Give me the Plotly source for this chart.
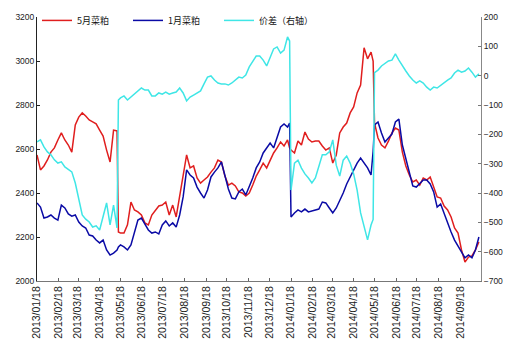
import plotly.graph_objects as go

dates = ["2013-01-18","2013-01-23","2013-01-28","2013-02-02","2013-02-07","2013-02-12","2013-02-17","2013-02-22","2013-02-27","2013-03-04","2013-03-09","2013-03-14","2013-03-19","2013-03-24","2013-03-29","2013-04-03","2013-04-08","2013-04-13","2013-04-18","2013-04-23","2013-04-28","2013-05-03","2013-05-08","2013-05-13","2013-05-15","2013-05-18","2013-05-23","2013-05-28","2013-06-02","2013-06-07","2013-06-12","2013-06-17","2013-06-22","2013-06-27","2013-07-02","2013-07-07","2013-07-12","2013-07-17","2013-07-22","2013-07-27","2013-08-01","2013-08-06","2013-08-11","2013-08-16","2013-08-21","2013-08-26","2013-08-31","2013-09-05","2013-09-10","2013-09-15","2013-09-20","2013-09-25","2013-09-30","2013-10-05","2013-10-10","2013-10-15","2013-10-20","2013-10-25","2013-10-30","2013-11-04","2013-11-09","2013-11-14","2013-11-19","2013-11-24","2013-11-29","2013-12-04","2013-12-09","2013-12-14","2013-12-19","2013-12-24","2013-12-29","2014-01-03","2014-01-08","2014-01-13","2014-01-16","2014-01-18","2014-01-23","2014-01-28","2014-02-02","2014-02-07","2014-02-12","2014-02-17","2014-02-22","2014-02-27","2014-03-04","2014-03-09","2014-03-14","2014-03-19","2014-03-24","2014-03-29","2014-04-03","2014-04-08","2014-04-13","2014-04-18","2014-04-23","2014-04-28","2014-05-03","2014-05-08","2014-05-13","2014-05-16","2014-05-18","2014-05-23","2014-05-28","2014-06-02","2014-06-07","2014-06-12","2014-06-17","2014-06-22","2014-06-27","2014-07-02","2014-07-07","2014-07-12","2014-07-17","2014-07-22","2014-07-27","2014-08-01","2014-08-06","2014-08-11","2014-08-16","2014-08-21","2014-08-26","2014-08-31","2014-09-05","2014-09-10","2014-09-15","2014-09-20","2014-09-25","2014-09-30","2014-10-05","2014-10-10","2014-10-15"]

may_meal = [2573,2505,2523,2550,2586,2605,2641,2673,2641,2618,2586,2709,2745,2764,2750,2732,2723,2714,2686,2659,2595,2541,2686,2682,
            2223,
            2218,2218,2255,2359,2323,2314,2300,2264,2255,2300,2323,2341,2345,2359,2300,2345,2291,2391,2473,2573,2514,2523,2468,2445,2459,2473,2495,2514,2550,2541,2477,2436,2445,2432,2405,2400,2386,2400,2436,2477,2505,2536,2514,2550,2582,2605,2632,2614,2641,
            2605,
            2595,2582,2636,2618,2677,2645,2632,2636,2636,2614,2595,2605,2536,2573,2673,2700,2718,2764,2791,2855,2891,3060,3010,3040,
            3000,
            2718,2650,2618,2605,2636,2673,2695,2686,2586,2523,2482,2450,2459,2436,2468,2459,2473,2423,2382,2377,2341,2323,2291,2241,2218,2141,2086,2109,2114,2141,2177]

jan_meal = [2355,2336,2286,2291,2300,2286,2277,2345,2332,2305,2295,2300,2268,2250,2241,2209,2205,2186,2173,2186,2141,2118,2127,2141,
            2155,
            2164,2155,2141,2164,2223,2277,2286,2259,2232,2218,2223,2214,2255,2273,2250,2264,2245,2300,2382,2505,2482,2468,2427,2400,2377,2414,2473,2495,2514,2541,2473,2418,2377,2373,2405,2418,2391,2427,2468,2514,2541,2582,2605,2627,2605,2655,2700,2714,2700,
            2718,
            2291,2309,2323,2314,2327,2314,2318,2323,2327,2359,2355,2332,2309,2332,2364,2400,2441,2473,2505,2536,2559,2536,2514,2482,
            2590,
            2710,2723,2673,2632,2650,2668,2723,2736,2618,2559,2491,2432,2427,2441,2459,2459,2441,2405,2336,2350,2305,2268,2223,2186,2159,2132,2105,2118,2105,2141,2200]

spread = [-226,-219,-243,-260,-270,-287,-298,-294,-311,-318,-328,-366,-424,-475,-489,-499,-516,-512,-526,-482,-434,-509,-441,-519,
          -83,
          -76,-69,-83,-73,-63,-52,-42,-49,-49,-69,-69,-59,-63,-56,-63,-59,-56,-42,-59,-86,-73,-66,-59,-52,-28,-5,-1,-15,-25,-28,-28,-32,-25,-15,-5,-8,2,30,47,67,67,53,33,60,91,98,77,87,132,
          118,
          -390,-298,-288,-315,-335,-349,-366,-349,-305,-270,-270,-260,-219,-305,-342,-288,-274,-298,-335,-390,-468,-519,-560,-509,
          -490,
          10,19,33,40,50,53,74,53,33,16,-1,-15,-25,-18,-25,-39,-49,-39,-42,-32,-25,-15,-8,9,19,12,16,26,12,-5,6]

tick_dates = ["2013-01-18","2013-02-18","2013-03-18","2013-04-18","2013-05-18","2013-06-18","2013-07-18","2013-08-18","2013-09-18","2013-10-18","2013-11-18","2013-12-18","2014-01-18","2014-02-18","2014-03-18","2014-04-18","2014-05-18","2014-06-18","2014-07-18","2014-08-18","2014-09-18"]
tick_labels = ["2013/01/18","2013/02/18","2013/03/18","2013/04/18","2013/05/18","2013/06/18","2013/07/18","2013/08/18","2013/09/18","2013/10/18","2013/11/18","2013/12/18","2014/01/18","2014/02/18","2014/03/18","2014/04/18","2014/05/18","2014/06/18","2014/07/18","2014/08/18","2014/09/18"]

names = ["5月菜粕", "1月菜粕", "价差（右轴）"]

fig = go.Figure()
fig.add_trace(go.Scatter(x=dates, y=may_meal, name=names[0], mode="lines",
                         line=dict(color="#E01E1E", width=1.5)))
fig.add_trace(go.Scatter(x=dates, y=jan_meal, name=names[1], mode="lines",
                         line=dict(color="#0A0AA5", width=1.5)))
fig.add_trace(go.Scatter(x=dates, y=spread, name=names[2], mode="lines", yaxis="y2",
                         line=dict(color="#3FE6E6", width=1.5)))

tickfont_y = dict(family="Liberation Sans, Arial, sans-serif", size=8.5, color="#222")
# the page body has an 8px margin, so the figure is sized to fit the 515x357 window
fig.update_layout(
    width=507, height=349,
    margin=dict(l=29, r=34, t=9, b=76, autoexpand=False),
    paper_bgcolor="white", plot_bgcolor="white",
    showlegend=True,
    legend=dict(orientation="h", x=0.0, y=1.042, xanchor="left", yanchor="top",
                font=dict(family="Noto Sans CJK SC, sans-serif", size=9, color="#111"),
                entrywidth=46, entrywidthmode="pixels", bgcolor="rgba(0,0,0,0)",
                itemwidth=30, tracegroupgap=0),
    xaxis=dict(type="date", range=["2013-01-18", "2014-10-18"], automargin=False,
               tickmode="array", tickvals=tick_dates, ticktext=tick_labels,
               tickangle=-90, ticks="inside", ticklen=3, tickcolor="#666",
               showline=True, linecolor="#777", linewidth=1, showgrid=False, zeroline=False,
               tickfont=dict(family="Liberation Sans, Arial, sans-serif", size=10.5, color="#222")),
    yaxis=dict(range=[2000, 3200], dtick=200, ticks="inside", ticklen=3, tickcolor="#222",
               automargin=False,
               showline=True, linecolor="#222", linewidth=1, showgrid=False, zeroline=False,
               tickfont=tickfont_y),
    yaxis2=dict(range=[-700, 200], dtick=100, overlaying="y", side="right",
                ticks="inside", ticklen=3, tickcolor="#777", automargin=False,
                showline=True, linecolor="#888", linewidth=1, showgrid=False, zeroline=False,
                tickfont=tickfont_y),
    shapes=[dict(type="line", xref="paper", yref="paper", x0=1.0743, x1=1.0743,
                 y0=-0.29, y1=1.04, line=dict(color="#F07878", width=1.5))],
)

fig.write_html("out.html")
